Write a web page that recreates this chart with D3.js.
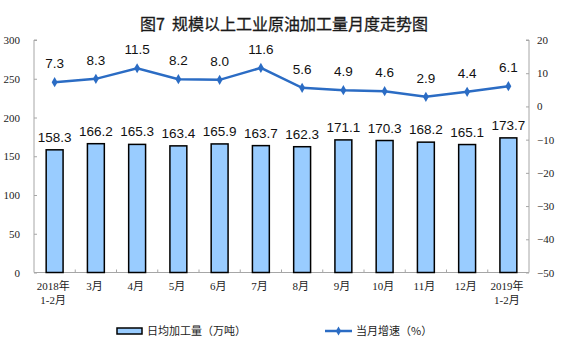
<!DOCTYPE html>
<html><head><meta charset="utf-8">
<script src="https://cdn.jsdelivr.net/npm/d3@7/dist/d3.min.js"></script>
<style>body{margin:0;background:#fff;}svg{display:block;}</style>
</head><body>
<script>
const title = "图7 规模以上工业原油加工量月度走势图";
const categories = ["2018年\n1-2月","3月","4月","5月","6月","7月","8月","9月","10月","11月","12月","2019年\n1-2月"];
const dailyOutput = [158.3,166.2,165.3,163.4,165.9,163.7,162.3,171.1,170.3,168.2,165.1,173.7];
const growthRate = [7.3,8.3,11.5,8.2,8.0,11.6,5.6,4.9,4.6,2.9,4.4,6.1];
const leftTicks = [0,50,100,150,200,250,300];
const rightTicks = [-50,-40,-30,-20,-10,0,10,20];
const legendLabels = ["日均加工量（万吨）","当月增速（%）"];

const W=561,H=357;
const L=34,R=529,T=40,B=272.5;
const svg=d3.select("body").append("svg").attr("width",W).attr("height",H);
const serif="'Liberation Serif','Times New Roman','Noto Sans CJK SC',serif";
const sans="'Liberation Sans',Arial,'Noto Sans CJK SC',sans-serif";
const cjk="'Noto Sans CJK SC','Liberation Sans',sans-serif";

const x=d3.scaleBand().domain(categories).range([L,R]);
const yL=d3.scaleLinear().domain([0,300]).range([B,T]);
const yR=d3.scaleLinear().domain([-50,20]).range([B,T]);

svg.append("text").attr("x",284).attr("y",30).attr("text-anchor","middle")
  .style("white-space","pre")
  .attr("font-family",cjk).attr("font-size",16).attr("font-weight",400)
  .attr("fill","#1a1a1a").attr("stroke","#1a1a1a").attr("stroke-width",0.3).text(title.replace(" ","\u00a0\u00a0"));

const axisColor="#a6a6a6";
// left axis
const gl=svg.append("g").attr("transform",`translate(${L},0)`)
  .call(d3.axisRight(yL).tickValues(leftTicks).tickSize(3).tickFormat(d3.format("d")));
gl.select(".domain").attr("stroke",axisColor).attr("d",`M3,${T}H0V${B}`);
gl.selectAll(".tick line").attr("stroke",axisColor);
gl.selectAll(".tick text").attr("x",-14).attr("text-anchor","end").attr("font-family",serif).attr("font-size",11).attr("fill","#222");
// right axis
const gr=svg.append("g").attr("transform",`translate(${R},0)`)
  .call(d3.axisLeft(yR).tickValues(rightTicks).tickSize(3).tickFormat(d3.format("d")));
gr.select(".domain").attr("stroke",axisColor).attr("d",`M-3,${T}H0V${B}`);
gr.selectAll(".tick line").attr("stroke",axisColor);
gr.selectAll(".tick text").attr("x",8).attr("text-anchor","start").attr("font-family",serif).attr("font-size",11).attr("fill","#222");
// x axis
svg.append("line").attr("x1",L).attr("x2",R).attr("y1",B).attr("y2",B).attr("stroke",axisColor);
svg.selectAll(".xt").data(categories.slice(1)).enter().append("line")
  .attr("x1",d=>x(d)).attr("x2",d=>x(d)).attr("y1",B).attr("y2",B-3).attr("stroke",axisColor);
const xl=svg.selectAll(".xl").data(categories).enter().append("text")
  .attr("text-anchor","middle").attr("font-family",serif).attr("font-size",11).attr("fill","#222");
xl.each(function(d){
  const t=d3.select(this); const parts=d.split("\n");
  parts.forEach((p,i)=>t.append("tspan").attr("x",x(d)+x.bandwidth()/2-1.5).attr("y",290+i*13.5).text(p));
});

// bars
const bw=x.bandwidth()*0.41;
svg.selectAll(".bar").data(dailyOutput).enter().append("rect")
  .attr("x",(d,i)=>x(categories[i])+x.bandwidth()/2-bw/2).attr("width",bw)
  .attr("y",d=>yL(d)).attr("height",d=>B-yL(d))
  .attr("fill","#99ccff").attr("stroke","#000").attr("stroke-width",1.5);
svg.selectAll(".bl").data(dailyOutput).enter().append("text")
  .attr("x",(d,i)=>x(categories[i])+x.bandwidth()/2).attr("y",d=>yL(d)-8)
  .attr("text-anchor","middle").attr("font-family",sans).attr("font-size",13.5).attr("fill","#111")
  .text(d=>d.toFixed(1));

// line
const lineColor="#2b6cc4";
const cx=(d,i)=>x(categories[i])+x.bandwidth()/2;
svg.append("path").datum(growthRate)
  .attr("d",d3.line().x(cx).y(d=>yR(d)))
  .attr("fill","none").attr("stroke",lineColor).attr("stroke-width",2.5);
svg.selectAll(".pt").data(growthRate).enter().append("path")
  .attr("d",d3.symbol(d3.symbolDiamond,30))
  .attr("transform",(d,i)=>`translate(${cx(d,i)},${yR(d)})`).attr("fill",lineColor);
svg.selectAll(".ll").data(growthRate).enter().append("text")
  .attr("x",cx).attr("y",d=>yR(d)-14)
  .attr("text-anchor","middle").attr("font-family",sans).attr("font-size",13.5).attr("fill","#111")
  .text(d=>d.toFixed(1));

// legend
const ly=331;
svg.append("rect").attr("x",117).attr("y",ly-3).attr("width",25).attr("height",6)
  .attr("fill","#99ccff").attr("stroke","#000").attr("stroke-width",1.5);
svg.append("text").attr("x",147).attr("y",ly+4).attr("font-family",cjk).attr("font-size",11).attr("fill","#222").text(legendLabels[0]);
svg.append("line").attr("x1",325).attr("x2",352).attr("y1",ly).attr("y2",ly).attr("stroke",lineColor).attr("stroke-width",2.5);
svg.append("path").attr("d",d3.symbol(d3.symbolDiamond,24)).attr("transform",`translate(338.5,${ly})`).attr("fill",lineColor);
svg.append("text").attr("x",356).attr("y",ly+4).attr("font-family",cjk).attr("font-size",11).attr("fill","#222").text(legendLabels[1]);
</script>
</body></html>
